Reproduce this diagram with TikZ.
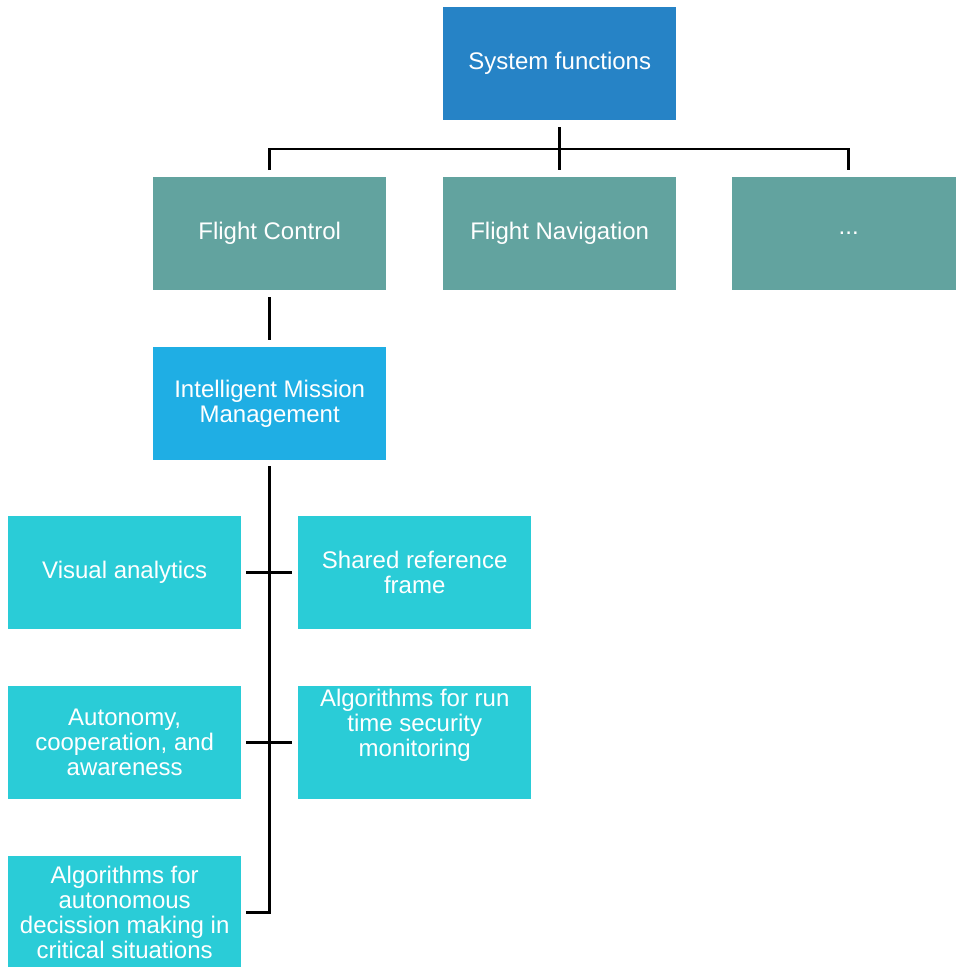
\documentclass[tikz,border=0pt]{standalone}
\usepackage{fontspec}
\setmainfont{Liberation Sans}
\definecolor{topblue}{HTML}{2683C6}
\definecolor{teal}{HTML}{62A39F}
\definecolor{midblue}{HTML}{1FAEE4}
\definecolor{cyanleaf}{HTML}{2ACCD7}
\tikzset{
  box/.style={anchor=north west, minimum width=233pt, minimum height=113pt,
    inner sep=0pt, text=white, align=center,
    font=\fontsize{24}{25}\selectfont},
  rootbox/.style={box, fill=topblue},
  funcbox/.style={box, fill=teal},
  imbox/.style={box, fill=midblue},
  leafbox/.style={box, fill=cyanleaf},
  txt/.style={text=white, align=center, inner sep=0pt,
    font=\fontsize{24}{25}\selectfont},
  link/.style={draw=black, line width=2.6pt, line join=miter}
}
\begin{document}
\begin{tikzpicture}[x=1pt, y=-1pt]
\useasboundingbox (0,0) rectangle (956,967);

% top level
\node[rootbox] (sys) at (443,7) {System functions};

% system functions
\node[funcbox] (fc)   at (153,177) {Flight Control};
\node[funcbox] (nav)  at (443,177) {Flight Navigation};
\node[funcbox] (dots) at (732,177) {...};

% mission management
\node[imbox] (imm) at (153,347) {Intelligent Mission\\Management};

% sub-functions
\node[leafbox] (va)  at (8,516)   {Visual analytics};
\node[leafbox] (srf) at (298,516) {Shared reference\\frame};
\node[leafbox] (au)  at (8,686)   {Autonomy,\\cooperation, and\\awareness};
\node[leafbox] (rt)  at (298,686) {};
\node[txt] (rtlabel) at ([yshift=17pt]rt.center) {Algorithms for run\\time security\\monitoring};
\node[leafbox] (dec) at (8,856)   {Algorithms for\\autonomous\\decission making in\\critical situations};

% connectors
\coordinate (bus) at (559.5,149);
\draw[link] ([yshift=-7pt]sys.south) -- ([yshift=7pt]nav.north);
\draw[link] ([yshift=7pt]fc.north) |- (bus) -| ([yshift=7pt]dots.north);
\draw[link] ([yshift=-7pt]fc.south) -- ([yshift=7pt]imm.north);
\draw[link] ([yshift=-6pt]imm.south) |- ([xshift=5pt]dec.east);
\draw[link] ([xshift=5pt]va.east) -- ([xshift=-6pt]srf.west);
\draw[link] ([xshift=5pt]au.east) -- ([xshift=-6pt]rt.west);
\end{tikzpicture}
\end{document}
